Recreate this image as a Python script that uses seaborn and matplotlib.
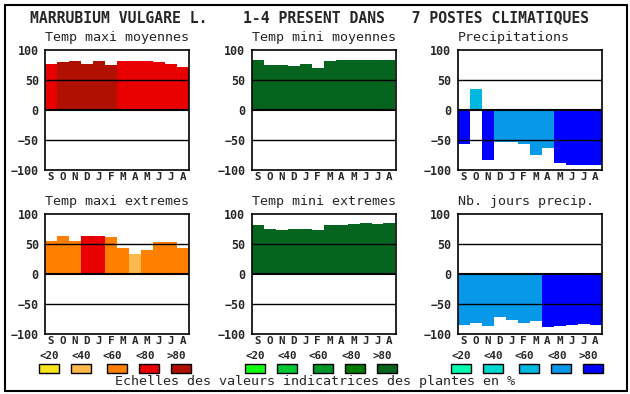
import seaborn as sns
import pandas as pd
import matplotlib.pyplot as plt
from matplotlib.patches import Rectangle

# donnees
months = ["S", "O", "N", "D", "J", "F", "M", "A", "M", "J", "J", "A"]
classes = ["<20", "<40", "<60", "<80", ">80"]

tmax_moy = [77, 80, 82, 77, 82, 75, 82, 82, 82, 80, 77, 72]
tmax_moy_cls = [3, 4, 4, 4, 4, 4, 3, 3, 3, 3, 3, 3]
tmin_moy = [83, 75, 75, 73, 77, 70, 82, 83, 83, 83, 83, 83]
tmin_moy_cls = [4] * 12
precip = [-57, 35, -84, -54, -54, -56, -75, -64, -88, -91, -91, -91]
precip_cls = [4, 2, 4, 3, 3, 3, 3, 3, 4, 4, 4, 4]

tmax_ext = [55, 63, 55, 63, 63, 62, 43, 33, 40, 53, 53, 43]
tmax_ext_cls = [2, 2, 2, 3, 3, 2, 2, 1, 2, 2, 2, 2]
tmin_ext = [82, 75, 73, 75, 75, 73, 82, 82, 83, 85, 83, 85]
tmin_ext_cls = [4] * 12
njours = [-85, -82, -87, -72, -77, -82, -78, -88, -87, -85, -83, -85]
njours_cls = [3, 3, 3, 3, 3, 3, 3, 4, 4, 4, 4, 4]

reds = ["#f8e41c", "#ffb84c", "#ff8000", "#e80000", "#b01000"]
greens = ["#10ff10", "#00c834", "#00962a", "#007a00", "#05651e"]
blues = ["#00ffb0", "#00d8d0", "#00b8e0", "#0898e8", "#0000ff"]

W, H = 630, 394
sns.set_style("white")
plt.rcParams["font.family"] = ["DejaVu Sans Mono"]

fig = plt.figure(figsize=(W / 100, H / 100), dpi=100)


def px_axes(left, top, w, h):
    return fig.add_axes([left / W, 1 - (top + h) / H, w / W, h / H])


panels = [
    ("Temp maxi moyennes", tmax_moy, tmax_moy_cls, reds, 45, 50),
    ("Temp mini moyennes", tmin_moy, tmin_moy_cls, greens, 251.5, 50),
    ("Precipitations", precip, precip_cls, blues, 457.5, 50),
    ("Temp maxi extremes", tmax_ext, tmax_ext_cls, reds, 45, 214),
    ("Temp mini extremes", tmin_ext, tmin_ext_cls, greens, 251.5, 214),
    ("Nb. jours precip.", njours, njours_cls, blues, 457.5, 214),
]

for title, vals, cls, cols, left, top in panels:
    ax = px_axes(left, top, 144, 120)
    df = pd.DataFrame({"pos": range(12), "val": vals,
                       "cls": [classes[c] for c in cls]})
    sns.barplot(data=df, x="pos", y="val", hue="cls",
                palette=dict(zip(classes, cols)), dodge=False, width=1,
                saturation=1, linewidth=0, legend=False, ax=ax)
    ax.set_xlim(-0.5, 11.5)
    ax.set_ylim(-100, 100)
    for yv in (50, -50):
        ax.axhline(yv, color="black", lw=1.0, zorder=5)
    ax.axhline(0, color="black", lw=1.5, zorder=5)
    ax.set_yticks([-100, -50, 0, 50, 100])
    ax.set_xticks(range(12))
    ax.set_xticklabels(months)
    ax.tick_params(length=0, labelsize=7.8, pad=1.5)
    ax.tick_params(axis="y", pad=4.5, labelsize=8.4)
    for lab in ax.get_xticklabels() + ax.get_yticklabels():
        lab.set_fontweight("bold")
    ax.set_xlabel("")
    ax.set_ylabel("")
    for s in ax.spines.values():
        s.set_color("black")
        s.set_linewidth(1.2)
        s.set_zorder(6)
    ax.text(0, 1.1, title, transform=ax.transAxes, fontsize=9.6,
            ha="left", va="center")

# calque en pixels pour le titre, les echelles et le cadre
ov = fig.add_axes([0, 0, 1, 1], zorder=-1)
ov.set_xlim(0, W)
ov.set_ylim(H, 0)
ov.axis("off")
ov.add_patch(Rectangle((4.5, 4.5), 622, 386, fill=False, lw=1.5,
                       edgecolor="black"))
ov.text(30.5, 18, "MARRUBIUM VULGARE L.    1-4 PRESENT DANS   7 POSTES CLIMATIQUES",
        fontsize=10.6, fontweight="bold", ha="left", va="center")

box_x = [39.3, 71.3, 107.3, 139.3, 171.3]
lab_x = [49.3, 81.3, 112.7, 145.3, 176.7]
for g, cols in enumerate([reds, greens, blues]):
    off = 206 * g
    for i, c in enumerate(cols):
        ov.add_patch(Rectangle((box_x[i] + off, 364), 20, 9.3, facecolor=c,
                               edgecolor="black", lw=1))
        ov.text(lab_x[i] + off, 356, classes[i], fontsize=7.8,
                fontweight="bold", ha="center", va="center")

ov.text(115, 382, "Echelles des valeurs indicatrices des plantes en %",
        fontsize=9.6, ha="left", va="center")

fig.savefig("out.png", dpi=100)
